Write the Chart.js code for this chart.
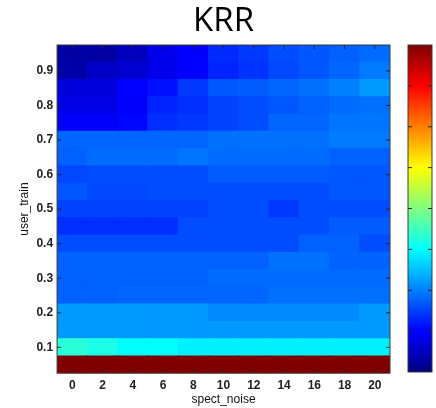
<!DOCTYPE html>
<html>
<head>
<meta charset="utf-8">
<script src="https://cdn.jsdelivr.net/npm/chart.js@4/dist/chart.umd.min.js"></script>
<style>
  html, body { margin: 0; padding: 0; background: #fff; overflow: hidden; }
  #wrap { position: relative; width: 436px; height: 408px; }
  #heat { position: absolute; left: 0; top: 0; }
  #cbar { position: absolute; left: 404px; top: 41px; }
</style>
</head>
<body>
<div id="wrap">
  <canvas id="heat" width="436" height="408"></canvas>
  <canvas id="cbar" width="32" height="335"></canvas>
</div>
<script>
// spect_noise columns
const xLabels = ['0', '2', '4', '6', '8', '10', '12', '14', '16', '18', '20'];
// user_train rows, bottom to top
const yRows = [0.05, 0.1, 0.15, 0.2, 0.25, 0.3, 0.35, 0.4, 0.45, 0.5,
               0.55, 0.6, 0.65, 0.7, 0.75, 0.8, 0.85, 0.9, 0.95];
const yTicks = [0.1, 0.2, 0.3, 0.4, 0.5, 0.6, 0.7, 0.8, 0.9];

// normalised KRR value per cell (0 = bottom of colour bar, 1 = top), same row order as yRows
const cellValues = [
  [1, 1, 1, 1, 1, 1, 1, 1, 1, 1, 1],
  [0.415, 0.4, 0.375, 0.375, 0.36, 0.36, 0.36, 0.36, 0.36, 0.36, 0.36],
  [0.275, 0.275, 0.275, 0.275, 0.275, 0.275, 0.275, 0.275, 0.275, 0.275, 0.275],
  [0.275, 0.275, 0.275, 0.275, 0.275, 0.26, 0.26, 0.26, 0.26, 0.26, 0.275],
  [0.22, 0.22, 0.225, 0.225, 0.225, 0.225, 0.225, 0.235, 0.235, 0.235, 0.235],
  [0.22, 0.22, 0.22, 0.22, 0.22, 0.23, 0.23, 0.23, 0.23, 0.23, 0.23],
  [0.22, 0.22, 0.22, 0.22, 0.22, 0.22, 0.22, 0.235, 0.235, 0.222, 0.222],
  [0.2, 0.2, 0.2, 0.2, 0.2, 0.2, 0.2, 0.2, 0.22, 0.22, 0.2],
  [0.17, 0.17, 0.17, 0.17, 0.2, 0.2, 0.2, 0.2, 0.2, 0.215, 0.215],
  [0.19, 0.19, 0.19, 0.19, 0.19, 0.2, 0.2, 0.18, 0.2, 0.2, 0.2],
  [0.21, 0.195, 0.195, 0.2, 0.2, 0.2, 0.2, 0.2, 0.2, 0.21, 0.21],
  [0.195, 0.2, 0.2, 0.2, 0.2, 0.215, 0.215, 0.215, 0.215, 0.21, 0.21],
  [0.22, 0.23, 0.23, 0.23, 0.24, 0.23, 0.23, 0.23, 0.23, 0.22, 0.22],
  [0.225, 0.225, 0.225, 0.225, 0.225, 0.235, 0.235, 0.235, 0.235, 0.245, 0.245],
  [0.12, 0.12, 0.13, 0.17, 0.18, 0.19, 0.2, 0.225, 0.225, 0.24, 0.24],
  [0.1, 0.1, 0.12, 0.16, 0.17, 0.19, 0.2, 0.21, 0.22, 0.23, 0.235],
  [0.09, 0.09, 0.125, 0.14, 0.18, 0.21, 0.215, 0.225, 0.235, 0.25, 0.275],
  [0.04, 0.07, 0.08, 0.105, 0.125, 0.16, 0.175, 0.195, 0.21, 0.225, 0.245],
  [0.035, 0.035, 0.06, 0.105, 0.125, 0.165, 0.18, 0.2, 0.21, 0.22, 0.23]
];

// colour bar
const cbStops = [0, 0.125, 0.375, 0.625, 0.875, 1];
const cbTicks = [0.125, 0.25, 0.375, 0.5, 0.625, 0.75, 0.875];

function jet(v) {
  const c = t => Math.round(255 * Math.max(0, Math.min(1, t)));
  return `rgb(${c(1.5 - Math.abs(4 * v - 3))},${c(1.5 - Math.abs(4 * v - 2))},${c(1.5 - Math.abs(4 * v - 1))})`;
}

const rowHalf = (yRows[1] - yRows[0]) / 2;
const tickFont = { family: 'Liberation Sans', size: 12, weight: 'bold' };
const titleFont = { family: 'Liberation Sans', size: 12 };

// inward tick marks on all four sides + box, MATLAB style
function drawBox(chart, xs, ys) {
  const { ctx, chartArea: a } = chart;
  ctx.save();
  ctx.strokeStyle = '#262626';
  ctx.lineWidth = 1;
  ctx.beginPath();
  xs.forEach(px => { ctx.moveTo(px, a.bottom); ctx.lineTo(px, a.bottom - 4); ctx.moveTo(px, a.top); ctx.lineTo(px, a.top + 4); });
  ys.forEach(py => { ctx.moveTo(a.left, py); ctx.lineTo(a.left + 4, py); ctx.moveTo(a.right, py); ctx.lineTo(a.right - 4, py); });
  ctx.stroke();
  ctx.strokeStyle = '#3a3a3a';
  ctx.strokeRect(a.left, a.top, a.right - a.left, a.bottom - a.top);
  ctx.restore();
}

new Chart(document.getElementById('heat'), {
  type: 'bar',
  data: {
    labels: xLabels,
    datasets: yRows.map((y, i) => ({
      data: xLabels.map(() => [y - rowHalf, y + rowHalf]),
      backgroundColor: cellValues[i].map(jet),
      grouped: false,
      barPercentage: 1,
      categoryPercentage: 1,
      borderWidth: 0,
      inflateAmount: 0.5
    }))
  },
  options: {
    responsive: false,
    animation: false,
    layout: { padding: { left: 14, right: 46, top: 0, bottom: 1 } },
    plugins: {
      legend: { display: false },
      tooltip: { enabled: false },
      title: {
        display: true, text: 'KRR', fullSize: false, color: '#000',
        font: { family: 'Open Sans', size: 33, weight: 'normal' },
        padding: { top: 2, bottom: 3.4 }
      }
    },
    scales: {
      x: {
        grid: { display: false, drawTicks: false },
        border: { display: false },
        ticks: { color: '#222', font: tickFont, padding: 5, maxRotation: 0, autoSkip: false },
        title: { display: true, text: 'spect_noise', color: '#111', font: titleFont, padding: { top: -5, bottom: 0 } }
      },
      y: {
        min: yRows[0] - rowHalf,
        max: yRows[yRows.length - 1] + rowHalf,
        afterBuildTicks: s => { s.ticks = yTicks.map(v => ({ value: v })); },
        grid: { display: false, drawTicks: false },
        border: { display: false },
        ticks: { color: '#222', font: tickFont, padding: 4, callback: v => v.toFixed(1) },
        title: { display: true, text: 'user_train', color: '#111', font: titleFont, padding: { top: 3, bottom: 1 } }
      }
    }
  },
  plugins: [{
    id: 'box',
    afterDatasetsDraw(chart) {
      const { x, y } = chart.scales;
      drawBox(chart, xLabels.map((_, i) => x.getPixelForTick(i)), yTicks.map(v => y.getPixelForValue(v)));
    }
  }]
});

new Chart(document.getElementById('cbar'), {
  type: 'bar',
  data: {
    labels: [''],
    datasets: [{
      data: [[0, 1]],
      barPercentage: 1,
      categoryPercentage: 1,
      borderWidth: 0,
      backgroundColor: ctx => {
        const a = ctx.chart.chartArea;
        if (!a) return null;
        const g = ctx.chart.ctx.createLinearGradient(0, a.bottom, 0, a.top);
        cbStops.forEach(s => g.addColorStop(s, jet(s)));
        return g;
      }
    }]
  },
  options: {
    responsive: false,
    animation: false,
    layout: { padding: 4 },
    plugins: { legend: { display: false }, tooltip: { enabled: false } },
    scales: {
      x: { display: false },
      y: { display: false, min: 0, max: 1 }
    }
  },
  plugins: [{
    id: 'cbox',
    afterDatasetsDraw(chart) {
      drawBox(chart, [], cbTicks.map(v => chart.scales.y.getPixelForValue(v)));
    }
  }]
});
</script>
</body>
</html>
